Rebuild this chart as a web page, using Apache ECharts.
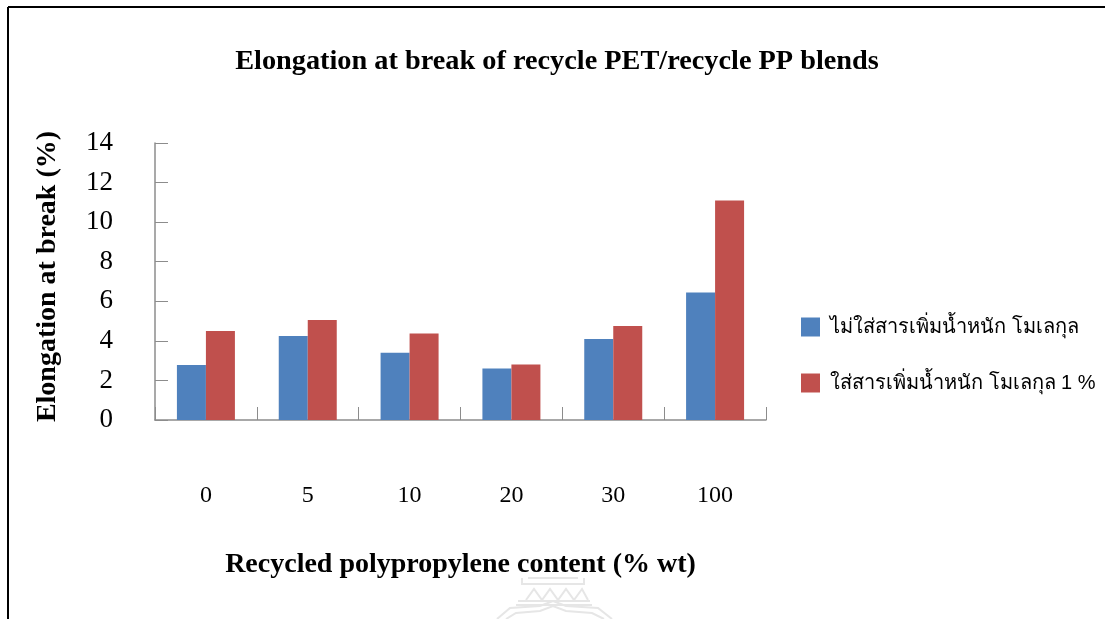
<!DOCTYPE html>
<html>
<head>
<meta charset="utf-8">
<style>
html,body{margin:0;padding:0;background:#fff;}
#main{width:1105px;height:619px;}
</style>
<script src="https://cdn.jsdelivr.net/npm/echarts@6/dist/echarts.min.js"></script>
</head>
<body>
<div id="main"></div>
<script>
var categories = ['0','5','10','20','30','100'];
var noAdditive = [2.78,4.24,3.4,2.6,4.1,6.45];
var withAdditive = [4.5,5.05,4.37,2.8,4.75,11.1];
var seriesNames = ['ไม่ใส่สารเพิ่มน้ำหนัก โมเลกุล','ใส่สารเพิ่มน้ำหนัก โมเลกุล 1 %'];
var serif = '"Liberation Serif", serif';
var sans = '"Liberation Sans", "Noto Sans", "DejaVu Sans", sans-serif';

// faint crest showing through from the scanned page
var crest = [
	[[522,578],[522,584],[584,584],[584,578]],
	[[528,578],[578,578]],
	[[526,600],[534,589],[542,600],[550,589],[558,600],[566,589],[574,600],[582,589],[588,600]],
	[[518,601],[590,601]],
	[[516,605],[592,605]],
	[[497,619],[510,608],[540,606],[553,601],[566,606],[598,608],[612,619]],
	[[506,619],[516,613],[540,611],[553,606],[566,611],[592,613],[604,619]]
];

function crestLines(){
	var out = [];
	for(var i = 0;i<crest.length;i++){
		out.push({type: 'polyline', silent: true, shape: {points: crest[i]}, style: {stroke: '#e6e6e6', lineWidth: 2, fill: null}});
	}
	return out;
}

var myChart = echarts.init(document.getElementById('main'));
var option = {
	animation: false,
	backgroundColor: '#fff',
	color: ['#4F81BD','#C0504D'],
	title: {
		text: 'Elongation at break of recycle PET/recycle PP blends',
		left: 552,
		top: 43,
		textAlign: 'center',
		textStyle: {fontFamily: serif, fontSize: 28.3, fontWeight: 'bold', color: '#000'}
	},
	legend: {
		orient: 'vertical',
		left: 801,
		top: 317,
		padding: 0,
		itemWidth: 19,
		itemHeight: 19,
		itemGap: 36,
		icon: 'rect',
		data: seriesNames,
		textStyle: {fontFamily: sans, fontSize: 20, color: '#000', padding: [0,0,0,5]}
	},
	grid: {left: 155, top: 143, width: 611, height: 277},
	xAxis: [{
		type: 'category',
		data: categories,
		name: 'Recycled polypropylene content (% wt)',
		nameLocation: 'middle',
		nameGap: 131,
		nameTextStyle: {fontFamily: serif, fontSize: 28, fontWeight: 'bold', color: '#000'},
		axisLine: {lineStyle: {color: '#8c8c8c', width: 1.5}},
		axisTick: {show: true, inside: true, length: 13, lineStyle: {color: '#8c8c8c', width: 1}},
		axisLabel: {margin: 64, fontFamily: serif, fontSize: 24, color: '#000'}
	}],
	yAxis: [{
		type: 'value',
		min: 0,
		max: 14,
		interval: 2,
		name: 'Elongation at break (%)',
		nameLocation: 'middle',
		nameGap: 93,
		nameTextStyle: {fontFamily: serif, fontSize: 28, fontWeight: 'bold', color: '#000', padding: [0,0,0,10]},
		axisLine: {show: true, lineStyle: {color: '#8c8c8c', width: 1.5}},
		axisTick: {show: true, inside: true, length: 13, lineStyle: {color: '#8c8c8c', width: 1}},
		splitLine: {show: false},
		axisLabel: {margin: 42, fontFamily: serif, fontSize: 27, color: '#000'}
	}],
	series: [
		{name: seriesNames[0], type: 'bar', data: noAdditive, barWidth: 29, barGap: 0},
		{name: seriesNames[1], type: 'bar', data: withAdditive, barWidth: 29, barGap: 0}
	],
	graphic: [
		{type: 'line', silent: true, shape: {x1: 8, y1: 7, x2: 1105, y2: 7}, style: {stroke: '#000', lineWidth: 2}},
		{type: 'line', silent: true, shape: {x1: 8, y1: 7, x2: 8, y2: 619}, style: {stroke: '#000', lineWidth: 2}}
	].concat(crestLines())
};
myChart.setOption(option);
</script>
</body>
</html>
